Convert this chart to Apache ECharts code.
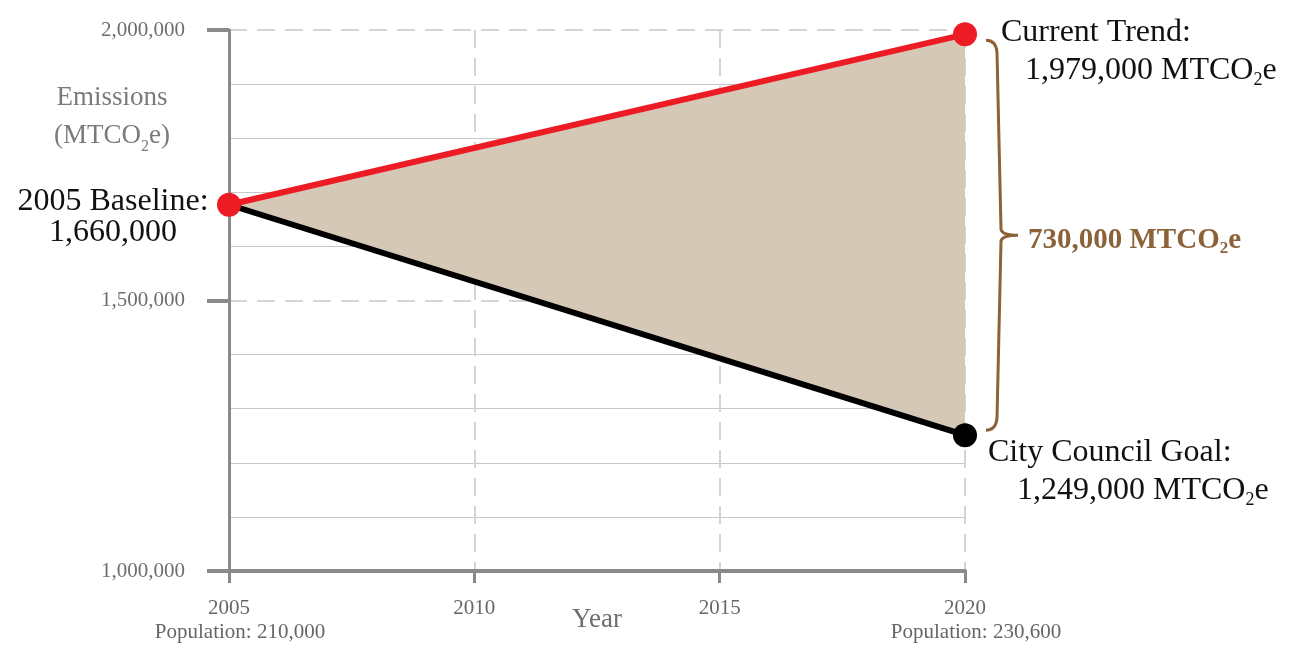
<!DOCTYPE html>
<html>
<head>
<meta charset="utf-8">
<script src="https://cdn.jsdelivr.net/npm/echarts@6/dist/echarts.min.js"></script>
<style>
    html, body { margin: 0; padding: 0; background: #fff; }
    #chart { width: 1293px; height: 645px; }
</style>
</head>
<body>
<div id="chart"></div>
<script>
// data
const years = [2005, 2020]
const trendValues = [1677000, 1992000]
const goalValues = [1677000, 1251000]
const popYears = [2005, 2020]
const popValues = ['210,000', '230,600']
const baselineText = ['2005 Baseline:', '1,660,000']
const trendText = ['Current Trend:', '1,979,000']
const goalText = ['City Council Goal:', '1,249,000']
const gapText = '730,000'

const FONT = 'Liberation Serif'
const RED = '#ed1c24'
const BROWN = '#8c6239'
const FILL = '#d5c8b7'

// solid minor grid every 100k, hidden where the dashed lines sit
const minorColors = []
for (let i = 0; i <= 10; i++) {
    minorColors.push(i % 5 === 0 ? 'transparent' : '#c8c8c8')
}

const labelRich = {
    t: { fontFamily: FONT, fontSize: 32, color: '#111', lineHeight: 38 },
    i: { fontFamily: FONT, fontSize: 32, color: '#111', lineHeight: 38, padding: [0, 0, 0, 24] },
    s: { fontFamily: FONT, fontSize: 18, color: '#111', verticalAlign: 'bottom', lineHeight: 20 }
}

const chart = echarts.init(document.getElementById('chart'))

const option = {
    animation: false,
    textStyle: { fontFamily: FONT },
    grid: { left: 229, right: 328, top: 30, bottom: 74, containLabel: false, outerBoundsMode: 'none' },
    graphic: [
        {
            type: 'text',
            left: 54,
            top: 84,
            style: {
                text: '{a|Emissions}\n{a|(MTCO}{s|2}{a|e)}',
                align: 'center',
                rich: {
                    a: { fontFamily: FONT, fontSize: 27, fill: '#7a7a7a', lineHeight: 38, align: 'center' },
                    s: { fontFamily: FONT, fontSize: 16, fill: '#7a7a7a', verticalAlign: 'bottom', lineHeight: 20 }
                }
            }
        }
    ],
    xAxis: {
        type: 'value',
        min: 2005,
        max: 2020,
        interval: 5,
        name: 'Year',
        nameLocation: 'middle',
        nameGap: 35,
        nameMoveOverlap: false,
        nameTextStyle: { fontFamily: FONT, fontSize: 27, color: '#6e6e6e' },
        axisLine: { show: true, onZero: false, lineStyle: { color: '#8a8a8a', width: 4 } },
        axisTick: { show: true, length: 12, lineStyle: { color: '#8a8a8a', width: 3 } },
        axisLabel: {
            margin: 25,
            formatter: v => {
                let idx = popYears.indexOf(v)
                let s = `{y|${v}}`
                if (idx >= 0) s += `\n{p|Population: ${popValues[idx]}}`
                return s
            },
            rich: {
                y: { fontFamily: FONT, fontSize: 21, color: '#666', lineHeight: 24 },
                p: { fontFamily: FONT, fontSize: 21, color: '#666', lineHeight: 24, padding: [0, 0, 0, 22] }
            }
        },
        splitLine: {
            show: true,
            showMinLine: false,
            lineStyle: { color: '#d4d4d4', width: 2, type: [18, 10] }
        }
    },
    yAxis: [
        {
            type: 'value',
            position: 'left',
            min: 1000000,
            max: 2000000,
            interval: 500000,
            axisLine: { show: true, lineStyle: { color: '#8a8a8a', width: 3 } },
            axisTick: { show: true, length: 22, lineStyle: { color: '#8a8a8a', width: 4 } },
            axisLabel: {
                margin: 44,
                fontFamily: FONT,
                fontSize: 21,
                color: '#6e6e6e',
                formatter: v => v.toLocaleString('en-US')
            },
            splitLine: {
                show: true,
                showMinLine: false,
                lineStyle: { color: '#d4d4d4', width: 2, type: [18, 10] }
            }
        },
        {
            type: 'value',
            position: 'left',
            min: 1000000,
            max: 2000000,
            interval: 100000,
            axisLine: { show: false },
            axisTick: { show: false },
            axisLabel: { show: false },
            splitLine: { show: true, lineStyle: { color: minorColors, width: 1 } }
        }
    ],
    series: [
        {
            // shaded gap between the two paths
            type: 'custom',
            z: 1,
            silent: true,
            data: [[years[0], trendValues[0]]],
            renderItem: (params, api) => {
                let pts = [
                    api.coord([years[0], trendValues[0]]),
                    api.coord([years[1], trendValues[1]]),
                    api.coord([years[1], goalValues[1]])
                ]
                return { type: 'polygon', shape: { points: pts }, style: { fill: FILL } }
            }
        },
        {
            name: 'Goal',
            type: 'line',
            z: 3,
            lineStyle: { color: '#000', width: 6 },
            itemStyle: { color: '#000' },
            symbol: 'circle',
            symbolSize: 24,
            data: [
                { value: [years[0], goalValues[0]], symbol: 'none' },
                {
                    value: [years[1], goalValues[1]],
                    label: {
                        show: true,
                        position: [35, 10],
                        align: 'left',
                        verticalAlign: 'top',
                        formatter: `{t|${goalText[0]}}\n{i|${goalText[1]} MTCO}{s|2}{t|e}`,
                        rich: Object.assign({}, labelRich, { i: Object.assign({}, labelRich.i, { padding: [0, 0, 0, 29] }) })
                    }
                }
            ]
        },
        {
            name: 'Trend',
            type: 'line',
            z: 4,
            lineStyle: { color: RED, width: 6 },
            itemStyle: { color: RED },
            symbol: 'circle',
            symbolSize: 24,
            data: [
                {
                    value: [years[0], trendValues[0]],
                    label: {
                        show: true,
                        position: 'left',
                        distance: 104,
                        align: 'center',
                        offset: [0, 12],
                        formatter: `{c|${baselineText[0]}}\n{c|${baselineText[1]}}`,
                        rich: { c: { fontFamily: FONT, fontSize: 32, color: '#111', lineHeight: 31, align: 'center' } }
                    }
                },
                {
                    value: [years[1], trendValues[1]],
                    label: {
                        show: true,
                        position: [48, -9],
                        align: 'left',
                        verticalAlign: 'top',
                        formatter: `{t|${trendText[0]}}\n{i|${trendText[1]} MTCO}{s|2}{t|e}`,
                        rich: labelRich
                    }
                }
            ]
        },
        {
            // brace spanning the gap at 2020
            type: 'custom',
            z: 5,
            silent: true,
            data: [[years[1], trendValues[1], goalValues[1]]],
            renderItem: (params, api) => {
                let top = api.coord([api.value(0), api.value(1)])
                let bot = api.coord([api.value(0), api.value(2)])
                let x0 = top[0] + 21
                let y0 = top[1] + 6
                let y1 = bot[1] - 5
                let mid = (y0 + y1) / 2
                let d = `M${x0} ${y0} Q${x0 + 10} ${y0} ${x0 + 11} ${y0 + 12} L${x0 + 15} ${mid - 6} Q${x0 + 16} ${mid} ${x0 + 32} ${mid}`
                    + ` M${x0 + 32} ${mid} Q${x0 + 16} ${mid} ${x0 + 15} ${mid + 6} L${x0 + 11} ${y1 - 12} Q${x0 + 10} ${y1} ${x0} ${y1}`
                return {
                    type: 'group',
                    children: [
                        {
                            type: 'path',
                            shape: { pathData: d },
                            style: { stroke: BROWN, lineWidth: 3, fill: null }
                        },
                        {
                            type: 'text',
                            style: {
                                x: x0 + 42,
                                y: mid + 5,
                                verticalAlign: 'middle',
                                text: `{b|${gapText} MTCO}{s|2}{b|e}`,
                                rich: {
                                    b: { fontFamily: FONT, fontSize: 29, fontWeight: 'bold', fill: BROWN, lineHeight: 34 },
                                    s: { fontFamily: FONT, fontSize: 17, fontWeight: 'bold', fill: BROWN, verticalAlign: 'bottom', lineHeight: 18 }
                                }
                            }
                        }
                    ]
                }
            }
        }
    ]
}

chart.setOption(option)
</script>
</body>
</html>
